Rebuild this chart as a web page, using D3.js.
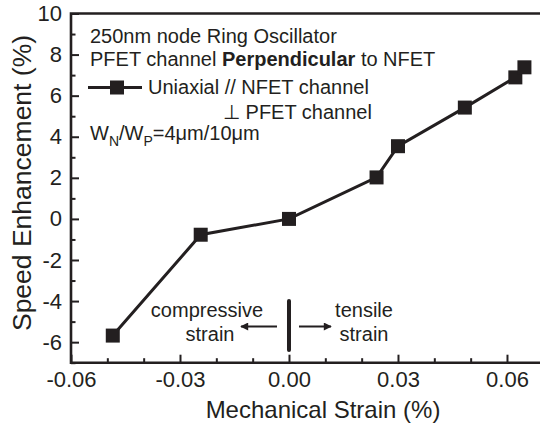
<!DOCTYPE html>
<html><head><meta charset="utf-8">
<script src="https://cdn.jsdelivr.net/npm/d3@7"></script>
<style>
body{margin:0;background:#fff;}
text{font-family:"Liberation Sans",Arial,Helvetica,sans-serif;fill:#231f20;}
</style></head>
<body><svg id="c" width="540" height="423"></svg>
<script>
const strain = [-0.0485, -0.0243, 0.0000, 0.0241, 0.0300, 0.0484, 0.0623, 0.0648];
const speed  = [-5.68, -0.77, 0.00, 2.02, 3.54, 5.42, 6.89, 7.38];
const xMajor = [-0.06, -0.03, 0.00, 0.03, 0.06];
const xMajorLabels = ["-0.06", "-0.03", "0.00", "0.03", "0.06"];
const xMinor = [-0.05, -0.04, -0.02, -0.01, 0.01, 0.02, 0.04, 0.05];
const yMajor = [-6, -4, -2, 0, 2, 4, 6, 8, 10];
const yMajorLabels = ["-6", "-4", "-2", "0", "2", "4", "6", "8", "10"];
const yMinor = [-7, -5, -3, -1, 1, 3, 5, 7, 9];

const ink = "#231f20";
const svg = d3.select("#c");
const L = 71, R = 541.5, T = 13.5, B = 362.7;
const x = d3.scaleLinear().domain([-0.06, 0.0695]).range([L, R]);
const y = d3.scaleLinear().domain([-7, 10]).range([B, T]);

// axes
const gx = svg.append("g").attr("transform", `translate(0,${B})`)
  .call(d3.axisBottom(x).tickValues(xMajor).tickFormat((d,i)=>xMajorLabels[i]).tickSize(-8).tickPadding(9));
const gxm = svg.append("g").attr("transform", `translate(0,${B})`)
  .call(d3.axisBottom(x).tickValues(xMinor).tickFormat("").tickSize(-4.5));
const gy = svg.append("g").attr("transform", `translate(${L},0)`)
  .call(d3.axisLeft(y).tickValues(yMajor).tickFormat((d,i)=>yMajorLabels[i]).tickSize(-8).tickPadding(9));
const gym = svg.append("g").attr("transform", `translate(${L},0)`)
  .call(d3.axisLeft(y).tickValues(yMinor).tickFormat("").tickSize(-4.5));
[gx,gxm,gy,gym].forEach(g=>{
  g.select(".domain").remove();
  g.selectAll(".tick line").attr("stroke", ink).attr("stroke-width", 2);
  g.selectAll(".tick text").attr("fill", ink).style("font-size","22px").style("font-family",'"Liberation Sans",Arial,sans-serif');
});
// frame
svg.append("path").attr("d", `M${R},${T}H${L}V${B}H${R}`).attr("fill","none").attr("stroke",ink).attr("stroke-width",2.6);

// axis titles
svg.append("text").attr("x", 323).attr("y", 418).attr("text-anchor","middle").style("font-size","24px").text("Mechanical Strain (%)");
svg.append("text").attr("transform","translate(31,183) rotate(-90)").attr("text-anchor","middle").style("font-size","26.5px").text("Speed Enhancement (%)");

// data line & markers
const pts = strain.map((s,i)=>[s, speed[i]]);
svg.append("path").datum(pts).attr("d", d3.line().x(d=>x(d[0])).y(d=>y(d[1])))
  .attr("fill","none").attr("stroke",ink).attr("stroke-width",3);
svg.selectAll("rect.m").data(pts).join("rect").attr("class","m")
  .attr("x", d=>x(d[0])-7).attr("y", d=>y(d[1])-7).attr("width",14).attr("height",14).attr("fill",ink);

// annotations
const fs = "20px";
svg.append("text").attr("x",90).attr("y",43).style("font-size",fs).text("250nm node Ring Oscillator");
const t2 = svg.append("text").attr("x",90).attr("y",66).style("font-size",fs);
t2.append("tspan").text("PFET channel ");
t2.append("tspan").style("font-weight","bold").text("Perpendicular");
t2.append("tspan").text(" to NFET");
// legend
svg.append("line").attr("x1",88).attr("x2",142).attr("y1",87.5).attr("y2",87.5).attr("stroke",ink).attr("stroke-width",3);
svg.append("rect").attr("x",110).attr("y",80.5).attr("width",14).attr("height",14).attr("fill",ink);
svg.append("text").attr("x",148).attr("y",94).style("font-size",fs).text("Uniaxial // NFET channel");
svg.append("text").attr("x",223).attr("y",119).style("font-size",fs).text("\u22A5 PFET channel");
const t3 = svg.append("text").attr("x",90).attr("y",140).style("font-size",fs);
t3.append("tspan").text("W");
t3.append("tspan").attr("dy",6).style("font-size","14px").text("N");
t3.append("tspan").attr("dy",-6).text("/W");
t3.append("tspan").attr("dy",6).style("font-size","14px").text("P");
t3.append("tspan").attr("dy",-6).text("=4\u03BCm/10\u03BCm");

// strain direction annotation
const x0 = x(0);
svg.append("line").attr("x1",x0).attr("x2",x0).attr("y1",301).attr("y2",350).attr("stroke",ink).attr("stroke-width",4).attr("stroke-linecap","round");
svg.append("defs").append("marker").attr("id","ah").attr("viewBox","0 0 10 10").attr("refX",9).attr("refY",5)
  .attr("markerWidth",5).attr("markerHeight",4).attr("markerUnits","strokeWidth").attr("orient","auto")
  .append("path").attr("d","M0,0L10,5L0,10z").attr("fill",ink);
svg.append("line").attr("x1",x0-12).attr("x2",x0-48).attr("y1",326.5).attr("y2",326.5).attr("stroke",ink).attr("stroke-width",2).attr("marker-end","url(#ah)");
svg.append("line").attr("x1",x0+10).attr("x2",x0+42).attr("y1",326.5).attr("y2",326.5).attr("stroke",ink).attr("stroke-width",2).attr("marker-end","url(#ah)");
svg.append("text").attr("x",207).attr("y",317).attr("text-anchor","middle").style("font-size",fs).text("compressive");
svg.append("text").attr("x",210).attr("y",341).attr("text-anchor","middle").style("font-size",fs).text("strain");
svg.append("text").attr("x",364).attr("y",317).attr("text-anchor","middle").style("font-size",fs).text("tensile");
svg.append("text").attr("x",364).attr("y",341).attr("text-anchor","middle").style("font-size",fs).text("strain");
</script></body></html>
